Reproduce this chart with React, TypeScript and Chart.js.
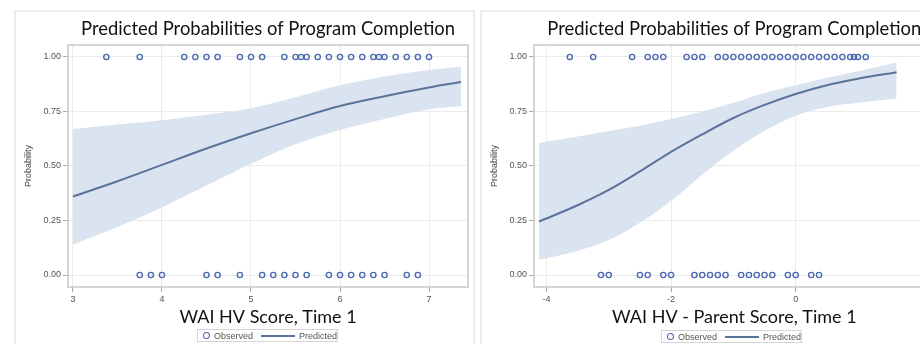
import React, { useEffect, useRef } from "react";
import { Chart, registerables } from "chart.js";

Chart.register(...registerables);

// ---------- data ----------
const titleText = "Predicted Probabilities of Program Completion";
const yTickValues = [0, 0.25, 0.5, 0.75, 1];

// Left panel: WAI HV Score, Time 1
const leftXTitle = "WAI HV Score, Time 1";
const leftXTicks = [3, 4, 5, 6, 7];
const leftCompletedX = [3.375, 3.75, 4.25, 4.375, 4.5, 4.625, 4.875, 5.0, 5.125, 5.375, 5.5, 5.5625, 5.625, 5.75, 5.875, 6.0, 6.125, 6.25, 6.375, 6.4375, 6.5, 6.625, 6.75, 6.875, 7.0];
const leftNotCompletedX = [3.75, 3.875, 4.0, 4.5, 4.625, 4.875, 5.125, 5.25, 5.375, 5.5, 5.625, 5.875, 6.0, 6.125, 6.25, 6.375, 6.5, 6.75, 6.875];
const leftCurveX = [3.0, 3.5, 4.0, 4.5, 5.0, 5.5, 6.0, 6.5, 7.0, 7.36];
const leftPredicted = [0.36, 0.43, 0.505, 0.58, 0.65, 0.715, 0.775, 0.82, 0.86, 0.885];
const leftUpper = [0.67, 0.69, 0.71, 0.735, 0.765, 0.815, 0.87, 0.91, 0.94, 0.955];
const leftLower = [0.14, 0.22, 0.31, 0.41, 0.51, 0.6, 0.665, 0.715, 0.76, 0.775];

// Right panel: WAI HV - Parent Score, Time 1
const rightXTitle = "WAI HV - Parent Score, Time 1";
const rightXTicks = [-4, -2, 0];
const rightCompletedX = [-3.625, -3.25, -2.625, -2.375, -2.25, -2.125, -1.75, -1.625, -1.5, -1.25, -1.125, -1.0, -0.875, -0.75, -0.625, -0.5, -0.375, -0.25, -0.125, 0.0, 0.125, 0.25, 0.375, 0.5, 0.625, 0.75, 0.875, 0.9375, 1.0, 1.125];
const rightNotCompletedX = [-3.125, -3.0, -2.5, -2.375, -2.125, -2.0, -1.625, -1.5, -1.375, -1.25, -1.125, -0.875, -0.75, -0.625, -0.5, -0.375, -0.125, 0.0, 0.25, 0.375];
const rightCurveX = [-4.12, -3.5, -3.0, -2.5, -2.0, -1.5, -1.0, -0.5, 0.0, 0.5, 1.0, 1.62];
const rightPredicted = [0.245, 0.32, 0.39, 0.475, 0.565, 0.645, 0.72, 0.78, 0.83, 0.87, 0.9, 0.93];
const rightUpper = [0.605, 0.635, 0.66, 0.685, 0.715, 0.75, 0.79, 0.835, 0.87, 0.905, 0.935, 0.975];
const rightLower = [0.07, 0.11, 0.16, 0.24, 0.34, 0.46, 0.57, 0.66, 0.73, 0.77, 0.79, 0.81];

// ---------- styles ----------
const markerColor = "#4d6bb3";
const lineColor = "#5a7499";
const bandColor = "#dae4f1";
const gridColor = "#ebebeb";
const tickFont = { family: "'Liberation Sans', Arial, sans-serif", size: 9 };
const titleFont = { family: "Lato, 'Open Sans', sans-serif", size: 18.4, weight: "normal" };
const axisTitleFont = { family: "Lato, 'Open Sans', sans-serif", size: 18, weight: "normal" };

const plotBorder = {
  id: "plotBorder",
  afterDatasetsDraw(chart: any) {
    const { ctx, chartArea } = chart;
    const { left, top, right, bottom } = chartArea;
    ctx.save();
    ctx.strokeStyle = "#c8c8c8";
    ctx.lineWidth = 1.5;
    ctx.strokeRect(left, top, right - left, bottom - top);
    ctx.restore();
  },
};

function pts(xs: number[], ys: number[]) {
  return xs.map((x, i) => ({ x, y: ys[i] }));
}

function makeConfig(p: {
  xTitle: string;
  xTicks: number[];
  xMin: number;
  xMax: number;
  completed: number[];
  notCompleted: number[];
  curveX: number[];
  pred: number[];
  upper: number[];
  lower: number[];
  padRight: number;
}): any {
  const observed = [
    ...p.completed.map((x) => ({ x, y: 1 })),
    ...p.notCompleted.map((x) => ({ x, y: 0 })),
  ];
  return {
    type: "line",
    data: {
      datasets: [
        {
          label: "Observed",
          data: observed,
          showLine: false,
          pointStyle: "circle",
          pointRadius: 2.6,
          pointBorderWidth: 1.4,
          pointBorderColor: markerColor,
          pointBackgroundColor: "rgba(0,0,0,0)",
          borderColor: markerColor,
        },
        {
          label: "Predicted",
          data: pts(p.curveX, p.pred),
          borderColor: lineColor,
          borderWidth: 2,
          pointRadius: 0,
          cubicInterpolationMode: "monotone",
          fill: false,
        },
        {
          label: "Upper",
          data: pts(p.curveX, p.upper),
          borderWidth: 0,
          borderColor: "rgba(0,0,0,0)",
          backgroundColor: bandColor,
          pointRadius: 0,
          cubicInterpolationMode: "monotone",
          fill: "+1",
        },
        {
          label: "Lower",
          data: pts(p.curveX, p.lower),
          borderWidth: 0,
          borderColor: "rgba(0,0,0,0)",
          pointRadius: 0,
          cubicInterpolationMode: "monotone",
          fill: false,
        },
      ],
    },
    options: {
      animation: false,
      responsive: false,
      events: [],
      layout: { padding: { left: 0, right: p.padRight, top: 0, bottom: 16 } },
      plugins: {
        legend: { display: false },
        tooltip: { enabled: false },
        title: {
          display: true,
          text: titleText,
          fullSize: false,
          font: titleFont,
          color: "#111",
          padding: { top: 8, bottom: 4.9 },
        },
      },
      scales: {
        x: {
          type: "linear",
          min: p.xMin,
          max: p.xMax,
          afterBuildTicks: (s: any) => {
            s.ticks = p.xTicks.map((v) => ({ value: v }));
          },
          afterFit: (s: any) => {
            s.height = 41;
          },
          ticks: {
            font: tickFont,
            color: "#555",
            padding: 2,
            maxRotation: 0,
            callback: (v: any) => String(v),
          },
          grid: { color: gridColor, tickColor: "#aaa", tickLength: 5 },
          border: { display: false },
          title: {
            display: true,
            text: p.xTitle,
            font: axisTitleFont,
            color: "#111",
            padding: { top: 0, bottom: 0 },
          },
        },
        y: {
          type: "linear",
          min: -0.055,
          max: 1.055,
          afterBuildTicks: (s: any) => {
            s.ticks = yTickValues.map((v) => ({ value: v }));
          },
          afterFit: (s: any) => {
            s.width = 54;
          },
          ticks: {
            font: tickFont,
            color: "#555",
            padding: 2,
            callback: (v: any) => Number(v).toFixed(2),
          },
          grid: { color: gridColor, tickColor: "#aaa", tickLength: 5 },
          border: { display: false },
          title: {
            display: true,
            text: "Probability",
            font: tickFont,
            color: "#444",
            padding: { top: 9, bottom: 0 },
          },
        },
      },
    },
    plugins: [plotBorder],
  };
}

function ChartCanvas({ config, left, top, width, height }: any) {
  const ref = useRef<HTMLCanvasElement | null>(null);
  useEffect(() => {
    if (!ref.current) return;
    const chart = new Chart(ref.current, config);
    return () => chart.destroy();
  }, [config]);
  return (
    <canvas
      ref={ref}
      width={width}
      height={height}
      style={{ position: "absolute", left, top, width, height }}
    />
  );
}

function Legend({ left, top }: { left: number; top: number }) {
  return (
    <div
      style={{
        position: "absolute",
        left,
        top,
        width: 141,
        height: 13,
        boxSizing: "border-box",
        border: "1px solid #d4d4d4",
        display: "flex",
        alignItems: "center",
        font: "9px 'Liberation Sans', Arial, sans-serif",
        color: "#555",
        whiteSpace: "nowrap",
      }}
    >
      <span
        style={{
          display: "inline-block",
          width: 5,
          height: 5,
          border: `1.3px solid ${markerColor}`,
          borderRadius: "50%",
          marginLeft: 5,
        }}
      />
      <span style={{ marginLeft: 4 }}>Observed</span>
      <span
        style={{
          display: "inline-block",
          width: 34,
          height: 2,
          background: lineColor,
          marginLeft: 8,
        }}
      />
      <span style={{ marginLeft: 4 }}>Predicted</span>
    </div>
  );
}

const leftConfig = makeConfig({
  xTitle: leftXTitle,
  xTicks: leftXTicks,
  xMin: 2.944,
  xMax: 7.438,
  completed: leftCompletedX,
  notCompleted: leftNotCompletedX,
  curveX: leftCurveX,
  pred: leftPredicted,
  upper: leftUpper,
  lower: leftLower,
  padRight: 6,
});

const rightConfig = makeConfig({
  xTitle: rightXTitle,
  xTicks: rightXTicks,
  xMin: -4.2,
  xMax: 2.23,
  completed: rightCompletedX,
  notCompleted: rightNotCompletedX,
  curveX: rightCurveX,
  pred: rightPredicted,
  upper: rightUpper,
  lower: rightLower,
  padRight: 4,
});

export default function App() {
  return (
    <div
      style={{
        position: "fixed",
        left: 0,
        top: 0,
        width: 920,
        height: 344,
        overflow: "hidden",
        background: "#fff",
      }}
    >
      <div
        style={{
          position: "absolute",
          left: 14,
          top: 10,
          width: 461,
          height: 400,
          boxSizing: "border-box",
          border: "2px solid #ececec",
        }}
      />
      <div
        style={{
          position: "absolute",
          left: 480,
          top: 10,
          width: 500,
          height: 400,
          boxSizing: "border-box",
          border: "2px solid #ececec",
        }}
      />
      <ChartCanvas config={leftConfig} left={14} top={10} width={460} height={334} />
      <ChartCanvas config={rightConfig} left={480} top={10} width={460} height={334} />
      <Legend left={197} top={329} />
      <Legend left={661} top={330} />
    </div>
  );
}
